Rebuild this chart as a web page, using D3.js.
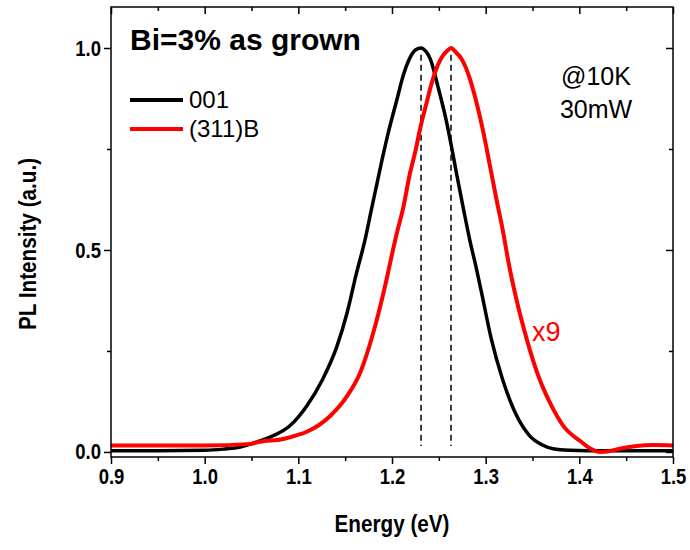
<!DOCTYPE html>
<html>
<head>
<meta charset="utf-8">
<script src="https://cdn.jsdelivr.net/npm/d3@7"></script>
<style>
  body { margin: 0; background: #fff; }
  svg { display: block; }
</style>
</head>
<body>
<svg id="chart" width="690" height="550"></svg>
<script>
// ---- data ----
const energy001 = [0.90, 0.95, 1.00, 1.02, 1.038, 1.056, 1.073, 1.091, 1.109, 1.126, 1.141, 1.152, 1.162, 1.171, 1.178, 1.184, 1.190, 1.196, 1.205, 1.212, 1.219, 1.225, 1.231, 1.236, 1.241, 1.249, 1.257, 1.264, 1.269, 1.276, 1.283, 1.290, 1.296, 1.306, 1.318, 1.333, 1.347, 1.360, 1.372, 1.390, 1.408, 1.45, 1.50];
const pl001 =     [0.003, 0.003, 0.004, 0.007, 0.012, 0.025, 0.040, 0.065, 0.114, 0.180, 0.260, 0.344, 0.442, 0.523, 0.600, 0.665, 0.730, 0.790, 0.870, 0.932, 0.975, 0.995, 1.000, 0.992, 0.972, 0.905, 0.830, 0.750, 0.688, 0.605, 0.525, 0.455, 0.390, 0.280, 0.180, 0.090, 0.040, 0.018, 0.008, 0.004, 0.003, 0.003, 0.003];

const energy311B = [0.90, 0.95, 1.00, 1.05, 1.056, 1.084, 1.102, 1.109, 1.134, 1.152, 1.166, 1.180, 1.194, 1.201, 1.205, 1.212, 1.219, 1.225, 1.230, 1.237, 1.242, 1.246, 1.251, 1.254, 1.259, 1.263, 1.268, 1.274, 1.283, 1.290, 1.298, 1.305, 1.312, 1.319, 1.324, 1.333, 1.344, 1.355, 1.369, 1.383, 1.401, 1.413, 1.422, 1.430, 1.443, 1.461, 1.479, 1.50];
const pl311B =     [0.016, 0.016, 0.016, 0.020, 0.024, 0.032, 0.044, 0.050, 0.089, 0.138, 0.196, 0.295, 0.425, 0.500, 0.540, 0.605, 0.688, 0.745, 0.800, 0.865, 0.910, 0.940, 0.968, 0.980, 0.993, 1.000, 0.990, 0.974, 0.925, 0.867, 0.786, 0.703, 0.620, 0.540, 0.474, 0.376, 0.278, 0.196, 0.120, 0.064, 0.027, 0.007, 0.000, 0.001, 0.008, 0.015, 0.017, 0.016];

const peakEnergies = [1.231, 1.263];
const xTicks = [0.9, 1.0, 1.1, 1.2, 1.3, 1.4, 1.5];
const xMinorTicks = [0.95, 1.05, 1.15, 1.25, 1.35, 1.45];
const yTicks = [0.0, 0.5, 1.0];
const yMinorTicks = [0.25, 0.75];
const seriesNames = ["001", "(311)B"];
const seriesColors = ["#000000", "#ff0000"];

// ---- layout ----
const svg = d3.select("#chart");
const margin = {left: 111, right: 17, top: 7, bottom: 93};
const W = 690 - margin.left - margin.right;
const H = 550 - margin.top - margin.bottom;
const g = svg.append("g").attr("transform", `translate(${margin.left},${margin.top})`);

const x = d3.scaleLinear().domain([0.9, 1.5]).range([0, W]);
const y = d3.scaleLinear().domain([-0.0125, 1.1015]).range([H, 0]);

const sans = "'Liberation Sans', Arial, sans-serif";

// horizontally condense a text element (imitates a narrow bold face)
function condense(sel, factor) {
  sel.each(function () {
    const w = this.getComputedTextLength();
    d3.select(this).attr("textLength", w * factor).attr("lengthAdjust", "spacingAndGlyphs");
  });
}

// curves
const line = d3.line().x(d => x(d[0])).y(d => y(d[1])).curve(d3.curveMonotoneX);
const data001 = energy001.map((e, i) => [e, pl001[i]]);
const data311 = energy311B.map((e, i) => [e, pl311B[i]]);

svg.append("defs").append("clipPath").attr("id", "clip")
  .append("rect").attr("width", W).attr("height", H);

const plot = g.append("g").attr("clip-path", "url(#clip)");

// dashed peak markers
plot.selectAll("line.peak").data(peakEnergies).join("line")
  .attr("class", "peak")
  .attr("x1", d => x(d)).attr("x2", d => x(d))
  .attr("y1", y(0.983)).attr("y2", y(0.015))
  .attr("stroke", "#000").attr("stroke-width", 1.5)
  .attr("stroke-dasharray", "6,4");

plot.append("path").datum(data001).attr("d", line)
  .attr("fill", "none").attr("stroke", seriesColors[0]).attr("stroke-width", 3.5)
  .attr("stroke-linejoin", "round");
plot.append("path").datum(data311).attr("d", line)
  .attr("fill", "none").attr("stroke", seriesColors[1]).attr("stroke-width", 4)
  .attr("stroke-linejoin", "round");

// axes
const axB = g.append("g").attr("transform", `translate(0,${H})`)
  .call(d3.axisBottom(x).tickValues(xTicks).tickFormat(d3.format(".1f")).tickSize(7).tickPadding(4));
const axBm = g.append("g").attr("transform", `translate(0,${H})`)
  .call(d3.axisBottom(x).tickValues(xMinorTicks).tickFormat("").tickSize(4));
const axT = g.append("g")
  .call(d3.axisBottom(x).tickValues(xTicks).tickFormat("").tickSize(7));
const axTm = g.append("g")
  .call(d3.axisBottom(x).tickValues(xMinorTicks).tickFormat("").tickSize(4));
const axL = g.append("g")
  .call(d3.axisLeft(y).tickValues(yTicks).tickFormat(d3.format(".1f")).tickSize(7).tickPadding(3));
const axLm = g.append("g")
  .call(d3.axisLeft(y).tickValues(yMinorTicks).tickFormat("").tickSize(4));
const axR = g.append("g").attr("transform", `translate(${W},0)`)
  .call(d3.axisLeft(y).tickValues(yTicks).tickFormat("").tickSize(7));
const axRm = g.append("g").attr("transform", `translate(${W},0)`)
  .call(d3.axisLeft(y).tickValues(yMinorTicks).tickFormat("").tickSize(4));

[axB, axBm, axT, axTm, axL, axLm, axR, axRm].forEach(a => {
  a.select(".domain").remove();
  a.selectAll(".tick line").attr("stroke", "#000").attr("stroke-width", 1.5);
  a.selectAll(".tick text").attr("fill", "#000")
    .style("font-family", sans).style("font-weight", "bold").style("font-size", "22px");
});
condense(axB.selectAll(".tick text"), 0.84);
condense(axL.selectAll(".tick text"), 0.84);

// frame
g.append("rect").attr("width", W).attr("height", H)
  .attr("fill", "none").attr("stroke", "#000").attr("stroke-width", 1.5);

// axis titles
const xTitle = svg.append("text").attr("x", margin.left + W / 2).attr("y", 532)
  .attr("text-anchor", "middle")
  .style("font-family", sans).style("font-weight", "bold").style("font-size", "23px")
  .text("Energy (eV)");
condense(xTitle, 0.9);
const yTitle = svg.append("text")
  .attr("transform", `translate(36,${margin.top + H / 2 + 12}) rotate(-90)`)
  .attr("text-anchor", "middle")
  .style("font-family", sans).style("font-weight", "bold").style("font-size", "23px")
  .text("PL Intensity (a.u.)");
condense(yTitle, 0.9);

// title
svg.append("text").attr("x", 130).attr("y", 50)
  .style("font-family", sans).style("font-weight", "bold").style("font-size", "30px")
  .text("Bi=3% as grown");

// legend
const legend = svg.append("g");
seriesNames.forEach((name, i) => {
  const ly = 100 + i * 29;
  legend.append("line").attr("x1", 130).attr("x2", 183).attr("y1", ly).attr("y2", ly)
    .attr("stroke", seriesColors[i]).attr("stroke-width", 4);
  legend.append("text").attr("x", 189).attr("y", ly + 8)
    .style("font-family", sans).style("font-size", "24px")
    .text(name);
});

// annotations
svg.append("text").attr("x", 596).attr("y", 85).attr("text-anchor", "middle")
  .style("font-family", sans).style("font-size", "25px")
  .text("@10K");
svg.append("text").attr("x", 596).attr("y", 118).attr("text-anchor", "middle")
  .style("font-family", sans).style("font-size", "25px")
  .text("30mW");
svg.append("text").attr("x", 532).attr("y", 341)
  .attr("fill", "#ff0000")
  .style("font-family", sans).style("font-size", "27px")
  .text("x9");
</script>
</body>
</html>
